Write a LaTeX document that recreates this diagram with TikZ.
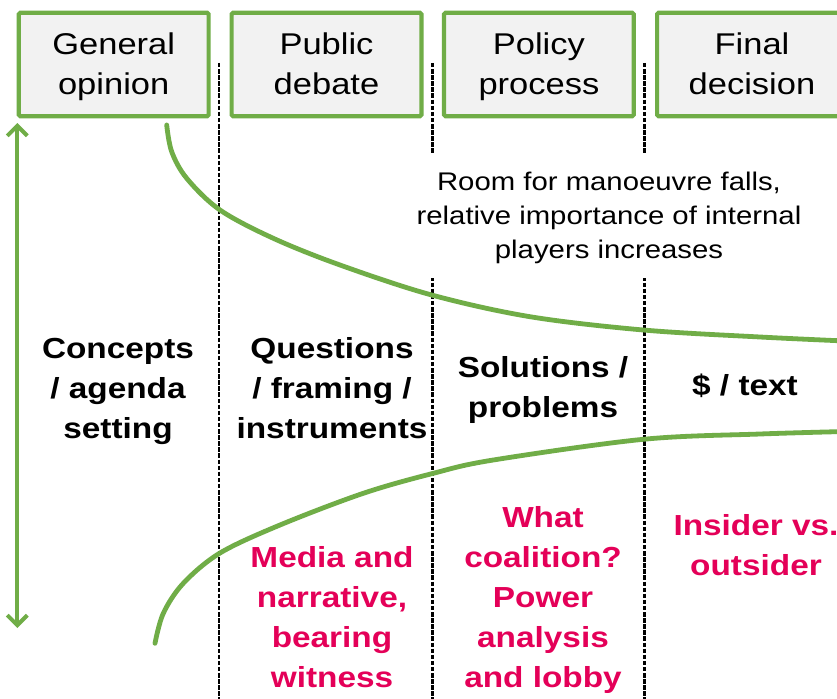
\documentclass[tikz,border=0pt]{standalone}
\usepackage{fontspec}
\setmainfont[FakeStretch=1.15]{Liberation Sans}
\usetikzlibrary{arrows.meta}
\definecolor{leaf}{RGB}{112,173,71}
\definecolor{boxfill}{RGB}{242,242,242}
\definecolor{accent}{RGB}{228,0,88}
% equal line height for every row of a label
\newcommand{\rowstrut}{\vphantom{Áġ}}
\tikzset{
  stage/.style={draw=leaf, line width=4.2pt, fill=boxfill, rounded corners=1.5pt,
    minimum width=189.8pt, minimum height=103.4pt, inner sep=0pt, align=center,
    font=\fontsize{30}{40}\selectfont},
  divider/.style={black, line width=2.8pt, dash pattern=on 4.5pt off 1.6pt},
  trend/.style={leaf, line width=4.8pt, line cap=round},
  span/.style={leaf, line width=4pt, {Straight Barb[length=10pt,width=20pt,line width=4pt]}-{Straight Barb[length=10pt,width=20pt,line width=4pt]}},
  theme/.style={align=center, font=\fontsize{29}{40}\selectfont\bfseries, inner sep=0pt},
  tactic/.style={theme, text=accent},
  note/.style={align=center, font=\fontsize{25.5}{34}\selectfont, fill=white,
    inner xsep=6pt, inner ysep=14pt}
}
\begin{document}
\begin{tikzpicture}[x=1pt, y=-1pt]
  \useasboundingbox (0,0) rectangle (837,698);
  \clip (0,0) rectangle (837,698);
  \fill[white] (0,0) rectangle (837,698);

  % column dividers
  \foreach \i/\x in {1/219, 2/432.5, 3/644.5} {
    \coordinate (d\i top) at (\x,63);
    \coordinate (d\i bot) at (\x,700);
    \draw[divider] (d\i top) -- (d\i bot);
  }

  % stage headers
  \node[stage] (b1) at (113.7,64.5) {\rowstrut General\\\rowstrut opinion};
  \node[stage] (b2) at (326.5,64.5) {\rowstrut Public\\\rowstrut debate};
  \node[stage] (b3) at (538.9,64.5) {\rowstrut Policy\\\rowstrut process};
  \node[stage] (b4) at (752,64.5)   {\rowstrut Final\\\rowstrut decision};

  % note on a white patch that interrupts the dividers
  \node[note] (room) at (609,216) {\rowstrut Room for manoeuvre falls,\\\rowstrut relative importance of internal\\\rowstrut players increases};

  % vertical span arrow
  \coordinate (atop) at (17.3,123);
  \coordinate (abot) at (17.3,628);
  \draw[span] (atop) -- (abot);

  % narrowing curves
  \draw[trend] plot[smooth, tension=0.55] coordinates {
    (166.7,125) (171.7,151.7) (186.7,178.3) (220,210) (273.3,238.3)
    (340,265) (431.7,295) (530,316.7) (643.3,330) (760,337) (845,341)};
  \draw[trend] plot[smooth, tension=0.55] coordinates {
    (155,643.3) (163.3,613.3) (183.3,583.3) (220,553) (280,525)
    (363.3,493.3) (433.3,473.3) (493.3,460) (643.3,439.3) (760,434) (845,431.5)};

  % stage themes
  \node[theme] (t1) at (118,389) {\rowstrut Concepts\\\rowstrut / agenda\\\rowstrut setting};
  \node[theme] (t2) at (332,389) {\rowstrut Questions\\\rowstrut / framing /\\\rowstrut instruments};
  \node[theme] (t3) at (543,388) {\rowstrut Solutions /\\\rowstrut problems};
  \node[theme] (t4) at (745,386) {\rowstrut\$ / text};

  % tactics per stage
  \node[tactic] (p2) at (332,618) {\rowstrut Media and\\\rowstrut narrative,\\\rowstrut bearing\\\rowstrut witness};
  \node[tactic] (p3) at (543,598) {\rowstrut What\\\rowstrut coalition?\\\rowstrut Power\\\rowstrut analysis\\\rowstrut and lobby};
  \node[tactic] (p4) at (756,546) {\rowstrut Insider vs.\\\rowstrut outsider};
\end{tikzpicture}
\end{document}
